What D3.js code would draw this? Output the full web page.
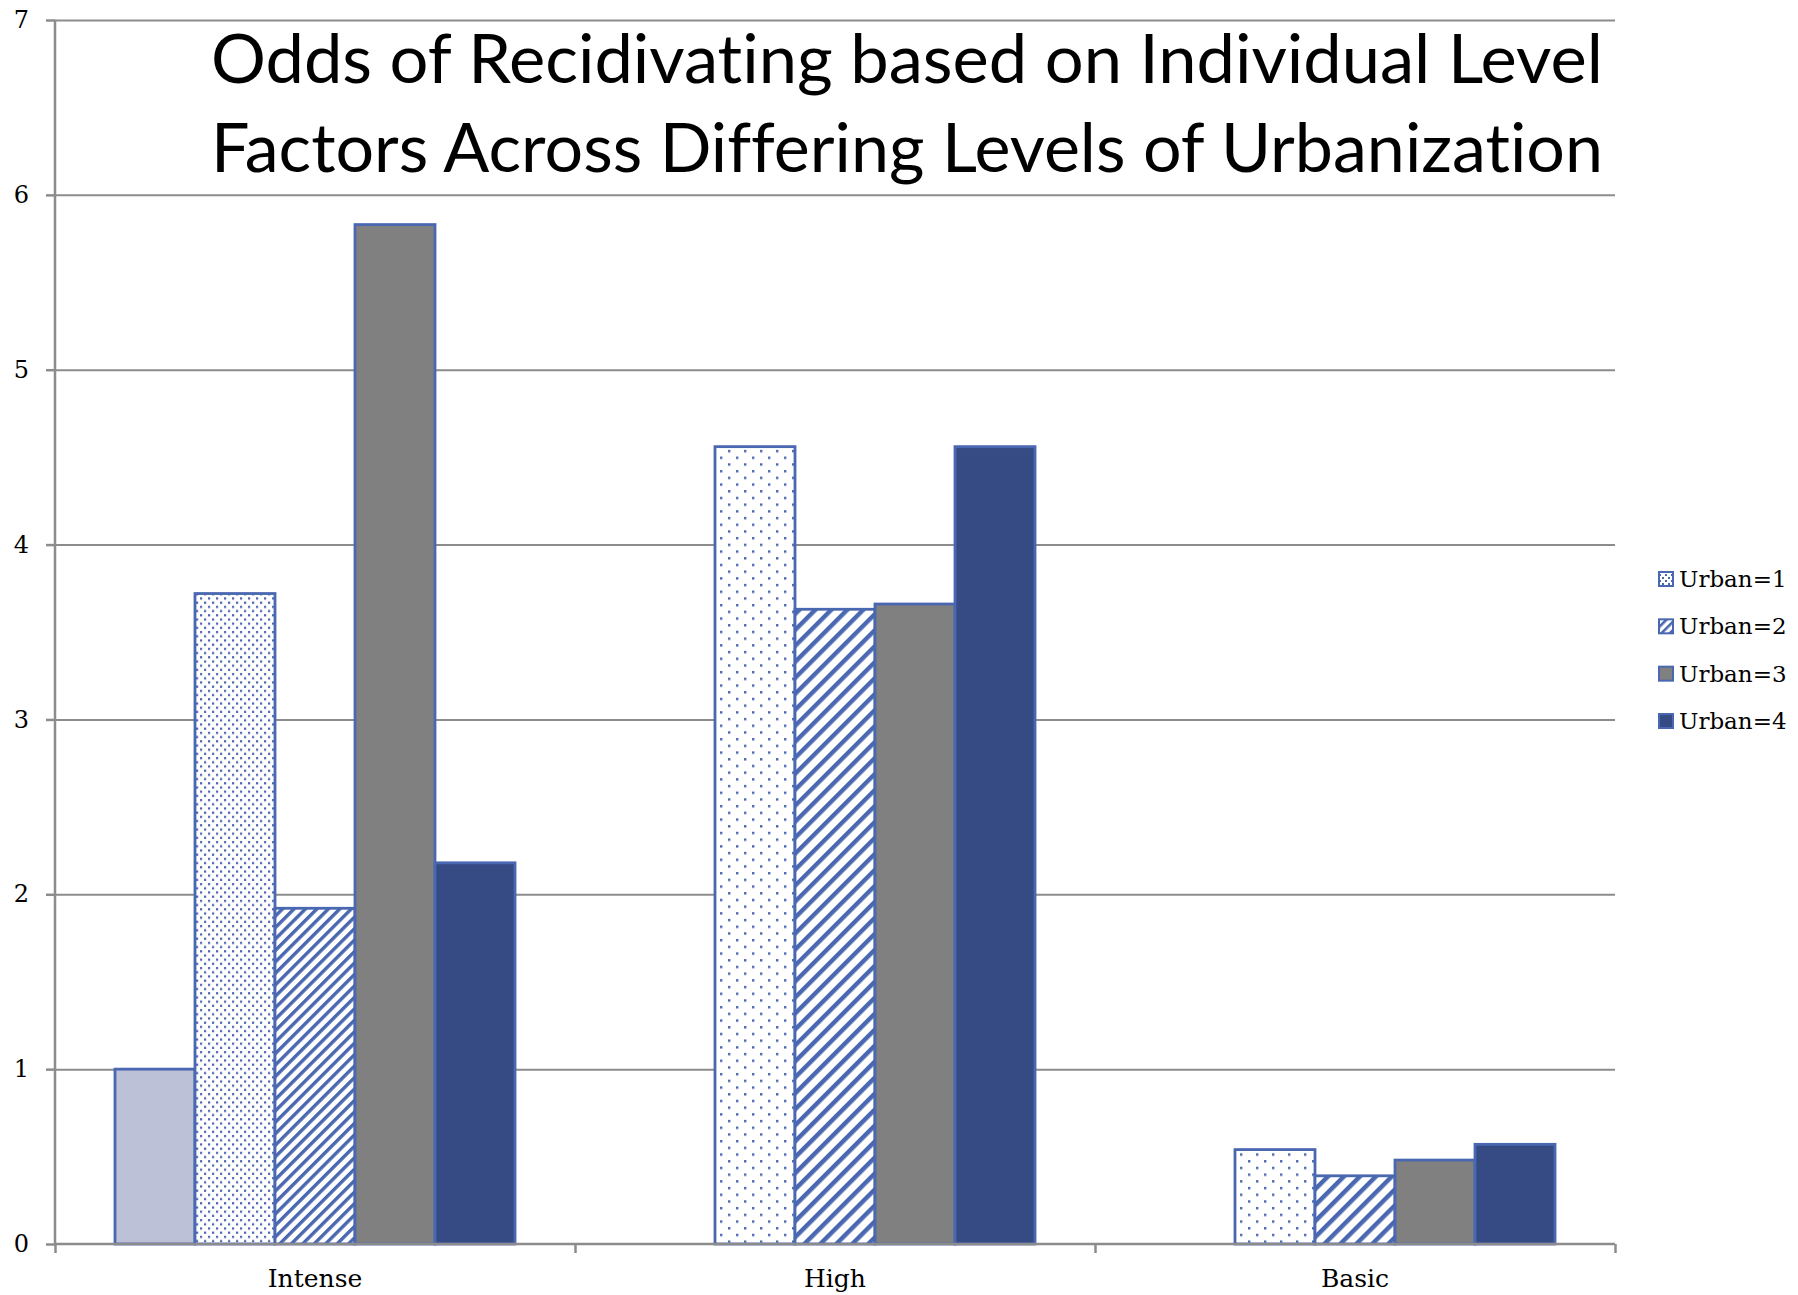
<!DOCTYPE html>
<html>
<head>
<meta charset="utf-8">
<script src="https://cdn.jsdelivr.net/npm/d3@7"></script>
<style>
  html, body { margin: 0; padding: 0; background: #fff; }
  svg { display: block; }
</style>
</head>
<body>
<svg id="chart" width="1798" height="1295"></svg>
<script>
// Odds ratios of recidivating by supervision level and urbanization
const categories = ["Intense", "High", "Basic"];
const seriesKeys = ["Baseline", "Urban=1", "Urban=2", "Urban=3", "Urban=4"];
const legendKeys = ["Urban=1", "Urban=2", "Urban=3", "Urban=4"];
const baseline = [1.00, null, null];
const urban1 = [3.72, 4.56, 0.54];
const urban2 = [1.92, 3.63, 0.39];
const urban3 = [5.83, 3.66, 0.48];
const urban4 = [2.18, 4.56, 0.57];
const yTicks = [0, 1, 2, 3, 4, 5, 6, 7];
const titleLines = [
  "Odds of Recidivating based on Individual Level",
  "Factors Across Differing Levels of Urbanization"
];

const seriesValues = [baseline, urban1, urban2, urban3, urban4];

const svg = d3.select("#chart");
const plot = { left: 55, right: 1615, top: 20, bottom: 1244 };

const BLUE = "#4a67b1";
const GRID = "#8c8c8c";
const SERIF = "'DejaVu Serif', 'Liberation Serif', serif";

// Fill patterns
const defs = svg.append("defs");

function dotPattern(id, w, h, r) {
  const p = defs.append("pattern").attr("id", id)
    .attr("patternUnits", "userSpaceOnUse").attr("width", w).attr("height", h);
  p.append("rect").attr("width", w).attr("height", h).attr("fill", "#fff");
  p.append("rect").attr("x", 1).attr("y", 1).attr("width", r).attr("height", r).attr("fill", BLUE);
  p.append("rect").attr("x", 1 + w / 2).attr("y", 1 + h / 2).attr("width", r).attr("height", r).attr("fill", BLUE);
}
function stripePattern(id, period, lineW) {
  const p = defs.append("pattern").attr("id", id)
    .attr("patternUnits", "userSpaceOnUse").attr("width", period).attr("height", period)
    .attr("patternTransform", "rotate(45)");
  p.append("rect").attr("width", period).attr("height", period).attr("fill", "#fff");
  p.append("rect").attr("x", 0).attr("y", 0).attr("width", lineW).attr("height", period).attr("fill", BLUE);
}
dotPattern("dots-fine", 8, 8.4, 2.2);
dotPattern("dots-wide", 16, 13.4, 2.4);
dotPattern("dots-legend", 6, 6, 2);
stripePattern("stripes-fine", 8.1, 3.4);
stripePattern("stripes-wide", 11.3, 4.4);
stripePattern("stripes-legend", 6, 2.6);

// Fill per series; the first group uses the finer hatch scale
function fillFor(key, catIndex) {
  const fine = catIndex === 0;
  switch (key) {
    case "Baseline": return "#bcc1d8";
    case "Urban=1": return fine ? "url(#dots-fine)" : "url(#dots-wide)";
    case "Urban=2": return fine ? "url(#stripes-fine)" : "url(#stripes-wide)";
    case "Urban=3": return "#808080";
    case "Urban=4": return "#364b84";
  }
}
const legendFill = {
  "Urban=1": "url(#dots-legend)",
  "Urban=2": "url(#stripes-legend)",
  "Urban=3": "#808080",
  "Urban=4": "#364b84"
};

// Scales
const x0 = d3.scaleBand().domain(categories).range([plot.left, plot.right]).padding(0);
const x1 = d3.scaleBand().domain(seriesKeys).range([0, x0.bandwidth()])
  .paddingInner(0).paddingOuter(0.75);
const y = d3.scaleLinear().domain([0, 7]).range([plot.bottom, plot.top]);

// Gridlines
svg.append("g")
  .attr("transform", `translate(${plot.left},0)`)
  .call(d3.axisLeft(y).tickValues(yTicks.slice(1)).tickSize(-(plot.right - plot.left)).tickFormat(""))
  .call(g => g.select(".domain").remove())
  .call(g => g.selectAll("line").attr("stroke", GRID).attr("stroke-width", 2));

// Bars
const rows = categories.map((c, i) => ({
  category: c, index: i,
  values: seriesKeys.map((k, s) => ({ key: k, value: seriesValues[s][i] }))
}));

svg.append("g").selectAll("g")
  .data(rows).join("g")
  .attr("transform", d => `translate(${x0(d.category)},0)`)
  .each(function (d) {
    d3.select(this).selectAll("rect")
      .data(d.values.filter(v => v.value != null))
      .join("rect")
      .attr("x", v => x1(v.key))
      .attr("y", v => y(v.value))
      .attr("width", x1.bandwidth())
      .attr("height", v => y(0) - y(v.value))
      .attr("fill", v => fillFor(v.key, d.index))
      .attr("stroke", BLUE)
      .attr("stroke-width", 2.8);
  });

// Y axis
svg.append("g")
  .attr("transform", `translate(${plot.left},0)`)
  .call(d3.axisLeft(y).tickValues(yTicks).tickSize(9).tickPadding(17).tickFormat(d3.format("d")))
  .call(g => g.selectAll("line, path").attr("stroke", GRID).attr("stroke-width", 2.5))
  .call(g => g.select(".domain").attr("d", `M0,${plot.top}V${plot.bottom}`))
  .call(g => g.selectAll("text").attr("font-family", SERIF).attr("font-size", 24).attr("fill", "#000"));

// X axis: baseline with group boundary ticks
const xEdges = d3.scaleLinear().domain([0, categories.length]).range([plot.left, plot.right]);
svg.append("g")
  .attr("transform", `translate(0,${plot.bottom})`)
  .call(d3.axisBottom(xEdges).tickValues(d3.range(categories.length + 1)).tickSize(9).tickFormat(""))
  .call(g => g.select(".domain").attr("d", `M${plot.left},0H${plot.right}`))
  .call(g => g.selectAll("line, path").attr("stroke", GRID).attr("stroke-width", 2.5));

svg.append("g")
  .attr("transform", `translate(0,${plot.bottom})`)
  .call(d3.axisBottom(x0).tickSize(0).tickPadding(25))
  .call(g => g.select(".domain").remove())
  .call(g => g.selectAll("text").attr("font-family", SERIF).attr("font-size", 25).attr("fill", "#000"));

// Legend
const legend = svg.append("g").attr("transform", "translate(1658,0)");
const legendY = d3.scalePoint().domain(legendKeys).range([579, 721]);
const item = legend.selectAll("g").data(legendKeys).join("g")
  .attr("transform", k => `translate(0,${legendY(k)})`);
item.append("rect")
  .attr("x", 1).attr("y", -7).attr("width", 14).attr("height", 14)
  .attr("fill", k => legendFill[k]).attr("stroke", BLUE).attr("stroke-width", 2);
item.append("text")
  .attr("x", 21).attr("dy", "0.35em")
  .attr("font-family", SERIF).attr("font-size", 23).attr("fill", "#000")
  .text(k => k);

// Title
svg.append("g").selectAll("text")
  .data(titleLines).join("text")
  .attr("x", 1603)
  .attr("y", (d, i) => 83 + i * 89)
  .attr("text-anchor", "end")
  .attr("font-family", "Lato, 'Open Sans', sans-serif")
  .attr("font-size", 68)
  .style("font-variant-ligatures", "none")
  .style("font-feature-settings", "'liga' 0, 'clig' 0")
  .attr("fill", "#000")
  .attr("textLength", 1392)
  .attr("lengthAdjust", "spacingAndGlyphs")
  .text(d => d);
</script>
</body>
</html>
